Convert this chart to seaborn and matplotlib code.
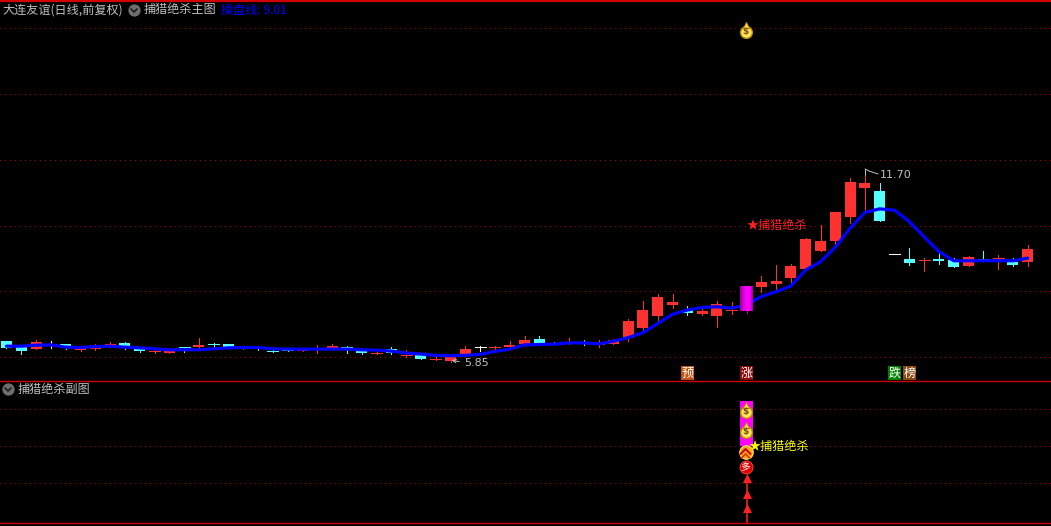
import numpy as np
import matplotlib
matplotlib.use("Agg")
import matplotlib.pyplot as plt
from matplotlib.colors import LinearSegmentedColormap
import seaborn as sns

# daily prices
opens = [6.49, 6.30, 6.24, 6.40, 6.40, 6.21, 6.24, 6.33, 6.43, 6.24,
         6.16, 6.13, 6.30, 6.30, 6.39, 6.40, 6.26, 6.30, 6.20, 6.21,
         6.19, 6.24, 6.24, 6.30, 6.18, 6.11, 6.24, 6.05, 6.06, 5.93,
         5.88, 6.09, 6.30, 6.29, 6.30, 6.40, 6.55, 6.42, 6.43, 6.46,
         6.39, 6.40, 6.58, 6.88, 7.25, 7.58, 7.43, 7.31, 7.25, 7.41,
         7.40, 8.13, 8.22, 8.40, 8.68, 9.23, 9.53, 10.26, 11.14, 11.05,
         9.13, 8.98, 8.95, 8.98, 8.95, 8.77, 8.99, 9.02, 8.89, 8.89]
closes = [6.28, 6.18, 6.46, 6.40, 6.32, 6.28, 6.37, 6.40, 6.32, 6.18,
          6.18, 6.21, 6.29, 6.37, 6.38, 6.30, 6.30, 6.26, 6.19, 6.20,
          6.22, 6.25, 6.33, 6.29, 6.12, 6.12, 6.12, 6.06, 5.94, 5.94,
          6.00, 6.24, 6.30, 6.30, 6.37, 6.52, 6.40, 6.40, 6.44, 6.40,
          6.40, 6.52, 7.10, 7.43, 7.83, 7.67, 7.34, 7.40, 7.61, 7.43,
          8.16, 8.28, 8.31, 8.77, 9.59, 9.53, 10.41, 11.33, 11.30, 10.14,
          9.13, 8.86, 8.96, 8.92, 8.74, 9.04, 8.98, 9.03, 8.80, 9.29]
highs = [6.49, 6.30, 6.52, 6.49, 6.40, 6.28, 6.40, 6.45, 6.46, 6.24,
         6.21, 6.21, 6.30, 6.58, 6.43, 6.40, 6.30, 6.30, 6.21, 6.21,
         6.22, 6.37, 6.40, 6.33, 6.18, 6.14, 6.30, 6.21, 6.06, 6.09,
         6.09, 6.33, 6.33, 6.33, 6.49, 6.64, 6.64, 6.46, 6.58, 6.52,
         6.52, 6.55, 7.16, 7.70, 7.92, 7.92, 7.55, 7.46, 7.70, 7.67,
         8.16, 8.47, 8.80, 8.83, 9.62, 10.02, 10.41, 11.45, 11.70, 11.30,
         9.13, 9.32, 9.01, 9.17, 9.01, 9.07, 9.23, 9.10, 9.01, 9.41]
lows = [6.28, 6.10, 6.24, 6.28, 6.24, 6.18, 6.21, 6.31, 6.24, 6.16,
        6.13, 6.13, 6.16, 6.24, 6.30, 6.30, 6.24, 6.21, 6.16, 6.17,
        6.19, 6.12, 6.24, 6.12, 6.09, 6.09, 6.09, 6.00, 5.94, 5.91,
        5.85, 6.09, 6.18, 6.21, 6.30, 6.40, 6.40, 6.40, 6.40, 6.37,
        6.30, 6.40, 6.49, 6.76, 7.07, 7.49, 7.28, 7.28, 6.91, 7.31,
        7.34, 7.98, 8.01, 8.25, 8.65, 9.23, 9.44, 10.08, 10.44, 10.14,
        9.13, 8.80, 8.62, 8.83, 8.74, 8.77, 8.95, 8.68, 8.77, 8.77]
# 操盘线
trade_line = [6.33, 6.33, 6.36, 6.37, 6.30, 6.29, 6.32, 6.33, 6.30, 6.28,
              6.25, 6.22, 6.22, 6.22, 6.25, 6.28, 6.29, 6.29, 6.25, 6.24,
              6.24, 6.24, 6.24, 6.24, 6.22, 6.21, 6.18, 6.12, 6.09, 6.05,
              6.04, 6.05, 6.08, 6.17, 6.24, 6.37, 6.38, 6.39, 6.43, 6.43,
              6.40, 6.48, 6.59, 6.74, 7.02, 7.30, 7.43, 7.51, 7.53, 7.49,
              7.58, 7.84, 7.99, 8.16, 8.65, 8.90, 9.34, 9.92, 10.40, 10.51,
              10.47, 10.12, 9.66, 9.21, 8.93, 8.93, 8.93, 8.93, 8.93, 9.01]

signal_day = 50
price_ticks = [6, 8, 10, 12, 14, 16]
sub_ticks = [1, 2, 3]
sub_bar = (2.01, 3.22)
arrow_levels = [1.14, 0.71, 0.33]
badges = [(46, "预", "#c05414"), (50, "涨", "#8b0a0a"), (60, "跌", "#008000"), (61, "榜", "#8b4a14")]

RED = "#ff3232"
CYAN = "#54ffff"
GRID = "#a00000"
FRAME = "#d00000"
GRAY = "#c0c0c0"

sns.set_theme(style="dark", rc={"axes.facecolor": "black", "figure.facecolor": "black"})
plt.rcParams["font.family"] = ["Noto Sans CJK SC", "DejaVu Sans"]
FS = 8.7

W, H = 1051, 526
fig = plt.figure(figsize=(W / 100, H / 100), dpi=100, facecolor="black")
ax = fig.add_axes([0, (H - 380.5) / H, 1, 379.5 / H])
sub = fig.add_axes([0, (H - 522.5) / H, 1, 142 / H])
over = fig.add_axes([0, 0, 1, 1])
over.set_xlim(0, W)
over.set_ylim(H, 0)
over.axis("off")
over.patch.set_alpha(0)

days = np.arange(len(opens))
xlim = (-6.5 / 14.8, (W - 6.5) / 14.8)

# candles
for i in days:
    o, c, h, l = opens[i], closes[i], highs[i], lows[i]
    if i == signal_day:
        col = "#c000c0"
    elif o == c:
        col = "white"
    elif c > o:
        col = RED
    else:
        col = CYAN
    ax.vlines(i, l, h, color=col, lw=0.72, zorder=2, antialiased=False)
    if i == signal_day:
        continue
    if abs(c - o) < 0.025:
        ax.hlines((o + c) / 2, i - 0.37, i + 0.37, color=col, lw=0.72,
                  zorder=2, antialiased=False)
    else:
        ax.bar(i, abs(c - o), bottom=min(o, c), width=0.74, color=col, linewidth=0, zorder=2,
               antialiased=False)

sns.lineplot(x=days, y=trade_line, color="#0000ff", lw=2.3, ax=ax, zorder=3, legend=False)

# magenta signal candle, shaded left to right
shade = LinearSegmentedColormap.from_list("shade", ["#9a009a", "#d000d0", "#ff00ff", "#ff00ff", "#a000a0"])
grad = np.linspace(0, 1, 64).reshape(1, -1)
ax.imshow(grad, cmap=shade, aspect="auto", zorder=4,
          extent=(signal_day - 0.43, signal_day + 0.43, opens[signal_day], closes[signal_day]))
sub.bar(signal_day, sub_bar[1] - sub_bar[0], bottom=sub_bar[0], width=0.86, color="#ff00ff",
        linewidth=0, zorder=2, antialiased=False)

for a, ticks in ((ax, price_ticks), (sub, sub_ticks)):
    a.set_xlim(*xlim)
    a.set_xticks([])
    a.set_yticks(ticks)
    a.tick_params(left=False, labelleft=False)
    a.grid(True, axis="y", color=GRID, lw=0.72, linestyle=(0, (1, 5)), antialiased=False)
    a.set_axisbelow(True)
    a.set_facecolor("black")
    sns.despine(ax=a, left=True, bottom=True)
ax.set_ylim(5.285, 16.837)
sub.set_ylim(-0.059, 3.78)


def money_bag(px, py):
    over.scatter([px], [py + 1.5], s=72, c="#ffe45c", edgecolors="#b88a00", linewidths=1, zorder=6)
    over.scatter([px], [py - 5.5], s=20, marker="^", c="#ffe45c", edgecolors="#b88a00", linewidths=0.7, zorder=6)
    over.text(px, py + 1.5, "$", color="#7a4a10", fontsize=6.5, fontweight="bold", ha="center",
              va="center", family="DejaVu Sans", zorder=7)


# main pane marks
money_bag(745.5, 30)
for i, label, col in badges:
    ax.text(i, 5.513, label, color="white", fontsize=FS, ha="center", va="center", zorder=5,
            bbox=dict(boxstyle="square,pad=0.06", facecolor=col, edgecolor="none"))
ax.text(50.0, 10.0, "★捕猎绝杀", color="#ff2020", fontsize=FS, va="center", ha="left", zorder=5)
over.annotate("", xy=(449, 360), xytext=(462, 362),
              arrowprops=dict(arrowstyle="->", color=GRAY, lw=0.7, mutation_scale=6))
over.text(464, 363, "5.85", color=GRAY, fontsize=8, va="center", family="DejaVu Sans")
over.plot([865, 865], [169, 175], color=GRAY, lw=0.7, zorder=5)
over.plot([865, 869, 878], [169, 171, 174], color=GRAY, lw=0.7, zorder=5)
over.text(880, 175, "11.70", color=GRAY, fontsize=8, va="center", family="DejaVu Sans")

# sub pane marks
sub.vlines(signal_day, -0.059, 1.2, color="#ff2020", lw=1.1, zorder=3)
sub.scatter([signal_day] * len(arrow_levels), arrow_levels, marker="^", s=42, c="#ff2020",
            linewidths=0, zorder=4)
money_bag(745.5, 410)
money_bag(745.5, 430)
over.scatter([745.5], [452], s=95, c="#ffa818", edgecolors="#ffe060", linewidths=0.8, zorder=6)
over.plot([740.5, 745.5, 750.5], [454, 449, 454], color="#c80000", lw=1.4, zorder=7)
over.plot([741.5, 745.5, 749.5], [458, 454, 458], color="#e03000", lw=1.2, zorder=7)
over.scatter([745.5], [467], s=88, c="#e00000", edgecolors="#ff5050", linewidths=0.6, zorder=6)
over.text(745.5, 467, "多", color="white", fontsize=7, ha="center", va="center", zorder=7)
over.text(749, 446.5, "★捕猎绝杀", color="#ffff00", fontsize=FS, va="center", zorder=8)

# frame
for y, lw in ((0.8, 1.6), (380.5, 1.0), (522.5, 1.0)):
    over.axhline(y, color=FRAME, lw=lw, zorder=5)


def fold_icon(px, py):
    over.scatter([px], [py], s=78, c="#6e6e6e", linewidths=0, zorder=6)
    over.plot([px - 3, px, px + 3], [py - 1, py + 2, py - 1], color="#1c1c1c", lw=1.2, zorder=7)


# header texts
over.text(2, 10, "大连友谊(日线,前复权)", color=GRAY, fontsize=FS, va="center")
fold_icon(134, 10)
over.text(144, 10, "捕猎绝杀主图", color=GRAY, fontsize=FS, va="center")
over.text(221, 10, "操盘线: 9.01", color="#0000ff", fontsize=FS, va="center")
fold_icon(8, 389)
over.text(18, 389.5, "捕猎绝杀副图", color=GRAY, fontsize=FS, va="center")

fig.savefig("out.png", dpi=100, facecolor="black")
